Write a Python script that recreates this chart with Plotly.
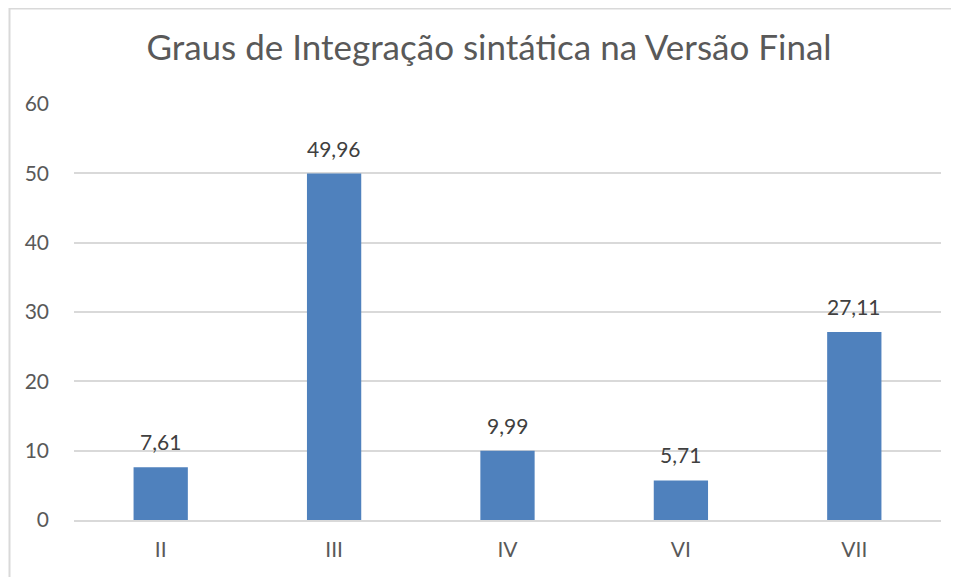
import plotly.graph_objects as go

categories = ["II", "III", "IV", "VI", "VII"]
values = [7.61, 49.96, 9.99, 5.71, 27.11]
y_ticks = [0, 10, 20, 30, 40, 50, 60]

FONT = "Lato"

fig = go.Figure()
fig.add_trace(go.Bar(
    x=categories, y=values,
    marker=dict(color="#4f81bd", line=dict(width=0)),
    width=0.313,
    hoverinfo="x+y",
))

for c, v in zip(categories, values):
    fig.add_annotation(
        x=c, y=v, text=f"{v:.2f}".replace(".", ","),
        showarrow=False, yanchor="bottom", yshift=11,
        font=dict(family=FONT, size=21, color="#404040"),
    )

# outer chart border (plot area: 867 x 415.5 px)
fig.add_shape(
    type="rect", xref="paper", yref="paper",
    x0=-64.5 / 867, x1=1.1, y0=-0.3, y1=1 + 95.5 / 415.5,
    line=dict(color="#d9d9d9", width=2), fillcolor="rgba(0,0,0,0)",
    layer="below",
)

fig.update_layout(
    width=959, height=577,
    margin=dict(l=66, r=26, t=96, b=65),
    paper_bgcolor="white", plot_bgcolor="white",
    separators=",.",
    title=dict(
        text="Graus de Integração sintática na Versão Final",
        x=481 / 959, xref="container", xanchor="center",
        y=1 - 40 / 577, yanchor="middle",
        font=dict(family=FONT, size=35, color="#595959"),
    ),
    showlegend=False,
    xaxis=dict(
        showline=True, linecolor="#d9d9d9", linewidth=2,
        tickfont=dict(family=FONT, size=21, color="#595959"),
        ticks="", ticklabelstandoff=10,
        showgrid=False,
    ),
    yaxis=dict(
        range=[0, 60], tickvals=y_ticks,
        showgrid=True, gridcolor="#d9d9d9", gridwidth=1.5,
        zeroline=False, showline=False,
        tickfont=dict(family=FONT, size=21, color="#595959"),
        ticks="", ticklabelstandoff=24,
    ),
)

fig.write_html("out.html")
